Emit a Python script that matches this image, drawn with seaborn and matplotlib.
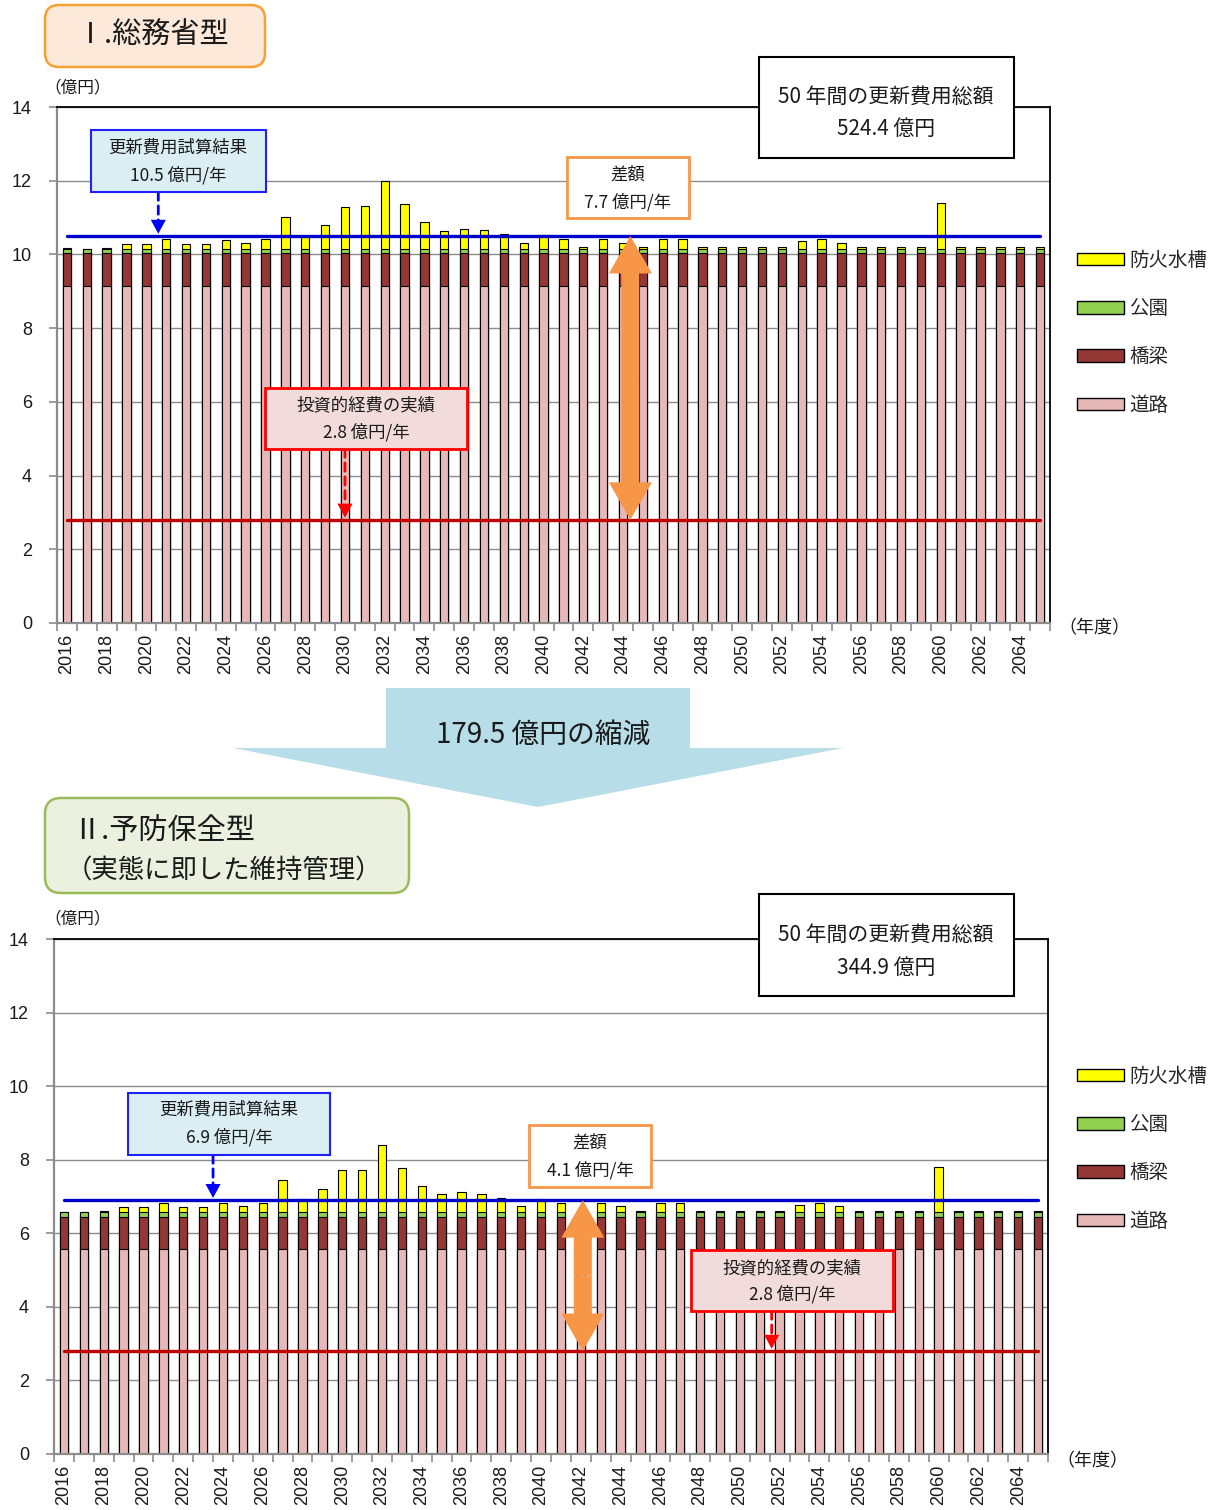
import numpy as np
import pandas as pd
import matplotlib
matplotlib.use("Agg")
import matplotlib.pyplot as plt
import seaborn as sns
from matplotlib.patches import FancyBboxPatch, Rectangle, Polygon, FancyArrowPatch, Patch

# ---- data (億円/年) ----
years = list(range(2016, 2066))
water_tank = [0.02, 0.01, 0.03, 0.14, 0.14, 0.26, 0.14, 0.14, 0.24, 0.16,
              0.26, 0.87, 0.36, 0.64, 1.14, 1.16, 1.83, 1.21, 0.72, 0.49,
              0.55, 0.50, 0.40, 0.16, 0.37, 0.26, 0.04, 0.26, 0.16, 0.04,
              0.26, 0.26, 0.04, 0.04, 0.04, 0.04, 0.04, 0.21, 0.26, 0.16,
              0.04, 0.04, 0.04, 0.04, 1.24, 0.04, 0.04, 0.04, 0.04, 0.04]
park = [0.12] * 50
bridge = [0.88] * 50
road_soumu = [9.15] * 50      # 総務省型
road_yobou = [5.57] * 50      # 予防保全型

renew_soumu = 10.5
renew_yobou = 6.9
actual_invest = 2.8
total_soumu = "524.4"
total_yobou = "344.9"
diff_soumu = "7.7"
diff_yobou = "4.1"
reduction = "179.5"

series_names = ["道路", "橋梁", "公園", "防火水槽"]
colors = {"道路": "#E6B9B8", "橋梁": "#953735", "公園": "#92D050", "防火水槽": "#FFFF00"}

W, H = 1222, 1510
sns.set_theme(style="white")
plt.rcParams["font.family"] = ["Noto Sans CJK JP", "DejaVu Sans"]

fig = plt.figure(figsize=(W / 100, H / 100), dpi=100)
fig.patch.set_facecolor("white")
T = fig.dpi_scale_trans


def P(x, y):
    """pixel (from top-left) -> inches (from bottom-left)"""
    return x / 100, (H - y) / 100


def add_box(x0, y0, x1, y1, fc, ec, lw, rounding=0.0):
    if rounding > 0:
        patch = FancyBboxPatch(P(x0, y1), (x1 - x0) / 100, (y1 - y0) / 100,
                               boxstyle=f"round,pad=0,rounding_size={rounding}",
                               fc=fc, ec=ec, lw=lw, transform=T, zorder=5)
    else:
        patch = Rectangle(P(x0, y1), (x1 - x0) / 100, (y1 - y0) / 100,
                          fc=fc, ec=ec, lw=lw, transform=T, zorder=5)
    fig.add_artist(patch)


def add_text(x, y, s, size, ha="center", va="center", **kw):
    fig.text(*P(x, y), s, fontsize=size, ha=ha, va=va, transform=T,
             color="#1a1a1a", zorder=6, **kw)


def draw_panel(ax, road, renew, box_x, arrow_x, box_bottoms, actual_x):
    df = pd.DataFrame({"年度": years, "道路": road, "橋梁": bridge,
                       "公園": park, "防火水槽": water_tank})
    cum = df[series_names].cumsum(axis=1)
    for name in reversed(series_names):
        sns.barplot(x=df["年度"], y=cum[name], color=colors[name], saturation=1,
                    width=0.42, edgecolor="black", linewidth=0.8,
                    errorbar=None, ax=ax, zorder=2)
    ax.set_xlabel("")
    ax.set_ylabel("")
    ax.set_xlim(-0.5, 49.5)
    ax.set_ylim(0, 14)

    ax.set_yticks(range(0, 15, 2), labels=[str(v) for v in range(0, 15, 2)],
                  fontfamily="Liberation Sans", fontsize=13)
    ax.yaxis.grid(True, color="#8C8C8C", lw=1.0)
    ax.set_axisbelow(True)
    ax.set_xticks(np.arange(0, 50, 2),
                  labels=[str(y) for y in years[::2]], rotation=90,
                  fontfamily="Liberation Sans", fontsize=13)
    ax.set_xticks(np.arange(-0.5, 50, 1), minor=True)
    ax.tick_params(axis="x", which="major", length=0, pad=8, colors="#1a1a1a")
    ax.tick_params(axis="x", which="minor", length=6, width=1.2,
                   color="#8C8C8C", direction="out", bottom=True)
    ax.tick_params(axis="y", which="major", length=6, width=1.2,
                   color="#8C8C8C", direction="out", left=True, pad=12,
                   labelcolor="#1a1a1a")
    for s in ("top", "right"):
        ax.spines[s].set_color("black")
        ax.spines[s].set_linewidth(1.3)
    for s in ("left", "bottom"):
        ax.spines[s].set_color("#8C8C8C")
        ax.spines[s].set_linewidth(1.6)

    # reference lines
    ax.plot([0, 49], [renew, renew], color="#0000CC", lw=2.4, zorder=4)
    ax.plot([0, 49], [actual_invest, actual_invest], color="#C00000", lw=2.4, zorder=4)

    # double-headed difference arrow
    mid = (renew + actual_invest) / 2
    for tip in (renew, actual_invest):
        ax.add_patch(FancyArrowPatch((arrow_x, mid), (arrow_x, tip),
                                     arrowstyle="simple,head_length=2.7,head_width=3.1,tail_width=1.3",
                                     mutation_scale=10, color="#F79646", lw=0,
                                     shrinkA=0, shrinkB=0, zorder=4))

    # pointers from the callout boxes to the lines
    hw, hh = 0.38, 0.42
    for (xa, yline, ybox, col) in ((box_x, renew, box_bottoms[0], "#0000FF"),
                                   (actual_x, actual_invest, box_bottoms[1], "#FF0000")):
        ax.annotate("", xy=(xa, yline + hh), xycoords="data",
                    xytext=(xa, ybox), textcoords=("data", "figure fraction"),
                    arrowprops=dict(arrowstyle="-", ls=(0, (3, 2)), color=col,
                                    lw=2.0, shrinkA=0, shrinkB=0), zorder=4)
        ax.add_patch(Polygon([(xa - hw, yline + hh + 0.02), (xa + hw, yline + hh + 0.02),
                              (xa, yline + 0.06)], closed=True, fc=col, ec="none", zorder=4))


# ---------------- panel I ----------------
ax1 = fig.add_axes([57 / W, 1 - 623 / H, (1050 - 57) / W, (623 - 107) / H])
draw_panel(ax1, road_soumu, renew_soumu, box_x=4.6, arrow_x=28.37,
           box_bottoms=(1 - 192 / H, 1 - 449 / H), actual_x=14.0)

# ---------------- panel II ----------------
ax2 = fig.add_axes([54 / W, 1 - 1454 / H, (1048 - 54) / W, (1454 - 939) / H])
draw_panel(ax2, road_yobou, renew_yobou, box_x=7.5, arrow_x=26.1,
           box_bottoms=(1 - 1155 / H, 1 - 1311 / H), actual_x=35.6)

# ---- titles ----
add_box(45, 5, 265, 67, "#FDE9D9", "#F7A035", 1.8, rounding=0.14)
add_text(153, 36, "Ⅰ.総務省型", 21)
add_box(45, 798, 409, 893, "#EBF1DE", "#9BBB59", 1.8, rounding=0.16)
add_text(72, 831, "Ⅱ.予防保全型", 21, ha="left")
add_text(66, 871, "（実態に即した維持管理）", 19, ha="left")

# ---- unit labels ----
add_text(44, 88, "（億円）", 12, ha="left")
add_text(44, 919, "（億円）", 12, ha="left")
add_text(1058, 628, "（年度）", 13, ha="left")
add_text(1056, 1461, "（年度）", 13, ha="left")

# ---- callouts panel I ----
add_box(759, 57, 1014, 158, "white", "black", 1.5)
add_text(886, 97, "50 年間の更新費用総額", 15)
add_text(886, 129, f"{total_soumu} 億円", 15)
add_box(91, 130, 266, 192, "#DAEEF3", "#1F1FFF", 1.5)
add_text(178, 148, "更新費用試算結果", 12.5)
add_text(178, 175, f"{renew_soumu} 億円/年", 12.5)
add_box(567, 157, 689, 218, "white", "#F79646", 2)
add_text(628, 175, "差額", 12.5)
add_text(628, 202, f"{diff_soumu} 億円/年", 12.5)
add_box(265, 388, 467, 449, "#F2DCDB", "#FF0000", 2)
add_text(366, 405, "投資的経費の実績", 12.5)
add_text(366, 432, f"{actual_invest} 億円/年", 12.5)

# ---- callouts panel II ----
add_box(759, 894, 1014, 996, "white", "black", 1.5)
add_text(886, 935, "50 年間の更新費用総額", 15)
add_text(886, 968, f"{total_yobou} 億円", 15)
add_box(128, 1093, 330, 1155, "#DAEEF3", "#1F1FFF", 1.5)
add_text(229, 1110, "更新費用試算結果", 12.5)
add_text(229, 1137, f"{renew_yobou} 億円/年", 12.5)
add_box(529, 1125, 651, 1187, "white", "#F79646", 2)
add_text(590, 1143, "差額", 12.5)
add_text(590, 1170, f"{diff_yobou} 億円/年", 12.5)
add_box(691, 1250, 893, 1311, "#F2DCDB", "#FF0000", 2)
add_text(792, 1268, "投資的経費の実績", 12.5)
add_text(792, 1294, f"{actual_invest} 億円/年", 12.5)

# ---- reduction arrow between panels ----
arrow_pts = [P(386, 688), P(690, 688), P(690, 748), P(843, 748),
             P(538, 807), P(233, 748), P(386, 748)]
fig.add_artist(Polygon(arrow_pts, closed=True, fc="#B7DDE8", ec="none",
                       transform=T, zorder=5))
add_text(543, 735, f"{reduction} 億円の縮減", 20)

# ---- legends ----
handles = [Patch(fc=colors[n], ec="black", lw=1.0) for n in reversed(series_names)]
labels = list(reversed(series_names))
for ytop in (250, 1066):
    fig.legend(handles, labels, loc="upper left",
               bbox_to_anchor=(1077 / W, 1 - ytop / H), frameon=False,
               fontsize=14, handlelength=2.4, handleheight=0.6,
               handletextpad=0.3, labelspacing=1.4, borderpad=0,
               borderaxespad=0)

fig.savefig("out.png", dpi=100, facecolor="white")
